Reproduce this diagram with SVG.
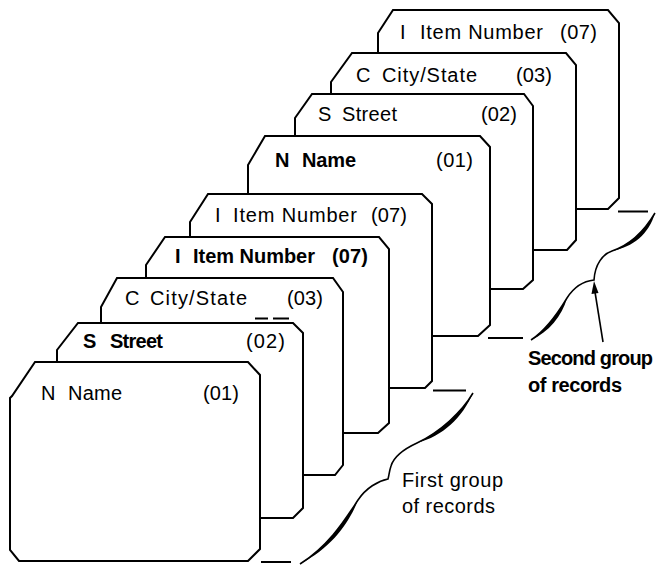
<svg xmlns="http://www.w3.org/2000/svg" width="656" height="565" viewBox="0 0 656 565">
<style>
.card{fill:#fff;stroke:#000;stroke-width:2;stroke-linejoin:miter}
.t{font-family:"Liberation Sans",Arial,Helvetica,sans-serif;font-size:20px;fill:#000}
.b{font-weight:bold}
.ln{fill:none;stroke:#000;stroke-width:1.6}
.dash{fill:none;stroke:#000;stroke-width:2}
.fill{fill:#000;stroke:none}
</style>
<rect width="656" height="565" fill="#fff"/>
<g id="card9">
<path class="card" d="M393,10 L608,10 L619,23 L619,198 L608,209 L387,209 L378,199 L378,33 Z"/>
<text class="t" y="39"><tspan x="400">I</tspan><tspan x="420" textLength="123">Item Number</tspan><tspan x="560" textLength="37">(07)</tspan></text>
</g>
<g id="card8">
<path class="card" d="M352,53 L566,53 L576,65 L576,240 L567,250 L340,250 L331,240 L331,82 Z"/>
<text class="t" y="82"><tspan x="356">C</tspan><tspan x="382" textLength="95">City/State</tspan><tspan x="516" textLength="36">(03)</tspan></text>
</g>
<g id="card7">
<path class="card" d="M312,94 L524,94 L533,106 L533,280 L523,289 L304,289 L295,280 L295,118 Z"/>
<text class="t" y="121"><tspan x="318">S</tspan><tspan x="342" textLength="55">Street</tspan><tspan x="481" textLength="36">(02)</tspan></text>
</g>
<g id="card6">
<path class="card" d="M265,136 L480,136 L490,147 L490,325 L478,336 L257,336 L248,326 L248,165 Z"/>
<text class="t" y="167"><tspan class="b" x="275">N</tspan><tspan class="b" x="302" textLength="54">Name</tspan><tspan x="436" textLength="37">(01)</tspan></text>
</g>
<g id="card5">
<path class="card" d="M208,194 L422,194 L432,204 L432,381 L425,388 L199,388 L190,378 L190,222 Z"/>
<text class="t" y="222"><tspan x="215">I</tspan><tspan x="233" textLength="124">Item Number</tspan><tspan x="371" textLength="36">(07)</tspan></text>
</g>
<g id="card4">
<path class="card" d="M165,237 L379,237 L389,249 L389,423 L378,433 L155,433 L146,423 L146,265 Z"/>
<text class="t b" y="263"><tspan x="175">I</tspan><tspan x="193" textLength="122">Item Number</tspan><tspan x="332" textLength="36">(07)</tspan></text>
</g>
<g id="card3">
<path class="card" d="M117,278 L333,278 L343,292 L343,465 L335,475 L110,475 L101,465 L101,307 Z"/>
<text class="t" y="305"><tspan x="125">C</tspan><tspan x="150" textLength="97">City/State</tspan><tspan x="287" textLength="36">(03)</tspan></text>
</g>
<g id="card2">
<path class="card" d="M78,323 L293,323 L303,333 L303,508 L293,518 L66,518 L57,508 L57,350 Z"/>
<path class="dash" d="M255,318.5 L268,318.5 M273,318.5 L289,318.5" stroke-width="2.5"/>
<text class="t" y="348"><tspan class="b" x="83">S</tspan><tspan class="b" x="110" textLength="53">Street</tspan><tspan x="246" textLength="39">(02)</tspan></text>
</g>
<g id="card1">
<path class="card" d="M35,362 L248,362 L260,375 L260,549 L248,561 L19,561 L10,550 L10,398 L12,396 Z"/>
<text class="t" y="400"><tspan x="41">N</tspan><tspan x="68" textLength="54">Name</tspan><tspan x="203" textLength="36">(01)</tspan></text>
</g>
<g id="connectors">
<path class="dash" d="M618,211.5 L648,211.5"/>
<path class="dash" d="M488,338 L523,338"/>
<path class="dash" d="M433,390.5 L466,390.5"/>
<path class="dash" d="M261,562 L291,562"/>
<path class="ln" d="M655,213 C645,230 630,245 612,251 C603,254 595,264 594,280 C584,281 574,287 567,298 C558,313 545,331 531,340"/>
<path class="fill" d="M655,213 C645,230 630,245 612,251 C633,247 649,234 655,213 Z"/>
<path class="fill" d="M567,298 C558,313 545,331 531,340 C549,332 562,316 567,298 Z"/>
<path class="ln" d="M473,393 C462,412 440,432 417,443 C404,449 394,456 391,466 C389,472 389,476 388,479 C378,481 366,488 358,500 C346,518 330,545 300,564"/>
<path class="fill" d="M473,393 C462,412 440,432 417,443 C443,436 462,418 473,393 Z"/>
<path class="fill" d="M358,500 C346,518 330,545 300,564 C333,547 350,521 358,500 Z"/>
<path class="ln" d="M603,342 L595,292" stroke-width="1.5"/>
<polygon class="fill" points="594,281 598.5,293 591.5,294"/>
</g>
<g id="labels">
<text class="t" y="487"><tspan x="402" textLength="101">First group</tspan></text>
<text class="t" y="513"><tspan x="402" textLength="93">of records</tspan></text>
<text class="t b" y="365"><tspan x="528" textLength="125">Second group</tspan></text>
<text class="t b" y="392"><tspan x="528" textLength="94">of records</tspan></text>
</g>
</svg>
